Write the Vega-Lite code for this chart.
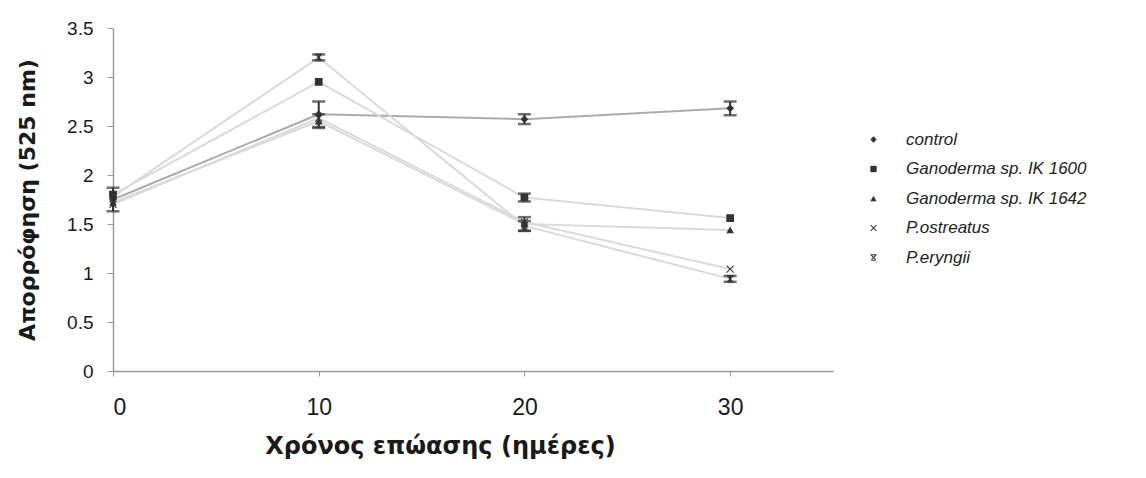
{
  "$schema": "https://vega.github.io/schema/vega-lite/v6.json",
  "width": 720,
  "height": 343,
  "autosize": {"type": "none"},
  "padding": {"left": 113, "top": 28, "right": 313, "bottom": 107},
  "background": "white",
  "config": {
    "view": {"stroke": null},
    "font": "Liberation Sans",
    "axis": {"grid": false, "domainColor": "#9a9a9a", "tickColor": "#9a9a9a", "domainWidth": 1.5, "labelColor": "#1a1a1a", "titleColor": "#1a1a1a", "labelFont": "Liberation Sans", "titleFont": "DejaVu Sans", "titleFontWeight": "bold"}
  },
  "data": {
    "values": [
      {"day": 0, "val": 1.75, "err": 0.12, "series": "control"},
      {"day": 10, "val": 2.62, "err": 0.13, "series": "control"},
      {"day": 20, "val": 2.57, "err": 0.05, "series": "control"},
      {"day": 30, "val": 2.68, "err": 0.07, "series": "control"},
      {"day": 0, "val": 1.8, "err": 0, "series": "Ganoderma sp. IK 1600"},
      {"day": 10, "val": 2.95, "err": 0, "series": "Ganoderma sp. IK 1600"},
      {"day": 20, "val": 1.77, "err": 0.04, "series": "Ganoderma sp. IK 1600"},
      {"day": 30, "val": 1.56, "err": 0, "series": "Ganoderma sp. IK 1600"},
      {"day": 0, "val": 1.72, "err": 0, "series": "Ganoderma sp. IK 1642"},
      {"day": 10, "val": 2.55, "err": 0.07, "series": "Ganoderma sp. IK 1642"},
      {"day": 20, "val": 1.5, "err": 0.07, "series": "Ganoderma sp. IK 1642"},
      {"day": 30, "val": 1.44, "err": 0, "series": "Ganoderma sp. IK 1642"},
      {"day": 0, "val": 1.7, "err": 0, "series": "P.ostreatus"},
      {"day": 10, "val": 2.58, "err": 0, "series": "P.ostreatus"},
      {"day": 20, "val": 1.52, "err": 0, "series": "P.ostreatus"},
      {"day": 30, "val": 1.04, "err": 0, "series": "P.ostreatus"},
      {"day": 0, "val": 1.78, "err": 0, "series": "P.eryngii"},
      {"day": 10, "val": 3.2, "err": 0.03, "series": "P.eryngii"},
      {"day": 20, "val": 1.48, "err": 0.05, "series": "P.eryngii"},
      {"day": 30, "val": 0.94, "err": 0.03, "series": "P.eryngii"}
    ]
  },
  "encoding": {
    "x": {
      "field": "day", "type": "quantitative",
      "scale": {"domain": [0, 35], "nice": false},
      "axis": {"values": [0, 10, 20, 30], "title": "Χρόνος επώασης (ημέρες)", "labelFontSize": 23, "tickSize": 5, "labelPadding": 20, "titleFontSize": 24, "titlePadding": 15, "titleX": 327}
    },
    "y": {
      "field": "val", "type": "quantitative",
      "scale": {"domain": [0, 3.5], "nice": false},
      "axis": {"values": [0, 0.5, 1, 1.5, 2, 2.5, 3, 3.5], "format": ".1~f", "title": "Απορρόφηση (525 nm)", "labelFontSize": 19, "tickSize": 6, "labelPadding": 14, "titleFontSize": 22, "titlePadding": 27}
    }
  },
  "layer": [
    {
      "mark": {"type": "line", "strokeWidth": 2},
      "encoding": {
        "detail": {"field": "series"},
        "color": {"condition": {"test": "datum.series == 'control'", "value": "#ababab"}, "value": "#dadada"}
      }
    },
    {
      "transform": [{"filter": "datum.err > 0"}],
      "mark": {"type": "errorbar", "color": "#333333", "thickness": 2, "ticks": {"size": 13, "thickness": 2.5, "color": "#333333"}},
      "encoding": {
        "yError": {"field": "err"}
      }
    },
    {
      "mark": {"type": "point", "filled": true, "opacity": 1, "color": "#333333", "size": 60},
      "encoding": {
        "shape": {
          "field": "series", "type": "nominal",
          "scale": {
            "domain": ["control", "Ganoderma sp. IK 1600", "Ganoderma sp. IK 1642", "P.ostreatus", "P.eryngii"],
            "range": ["diamond", "square", "triangle-up", "M-1,-0.8L-0.8,-1L0,-0.2L0.8,-1L1,-0.8L0.2,0L1,0.8L0.8,1L0,0.2L-0.8,1L-1,0.8L-0.2,0Z", "M-1,-0.8L-0.8,-1L0,-0.2L0.8,-1L1,-0.8L0.2,0L1,0.8L0.8,1L0,0.2L-0.8,1L-1,0.8L-0.2,0ZM-0.9,-1L0.9,-1L0.9,-0.75L-0.9,-0.75ZM-0.9,1L0.9,1L0.9,0.75L-0.9,0.75Z"]
          },
          "legend": {
            "title": null,
            "orient": "none",
            "legendX": 752,
            "legendY": 103,
            "labelFont": "Liberation Sans",
            "labelFontSize": 17,
            "labelFontStyle": "italic",
            "labelLimit": 400,
            "labelColor": "#222222",
            "symbolSize": 40,
            "symbolFillColor": "#333333",
            "symbolStrokeColor": "#333333",
            "rowPadding": 11.5,
            "labelOffset": 24
          }
        }
      }
    }
  ]
}
